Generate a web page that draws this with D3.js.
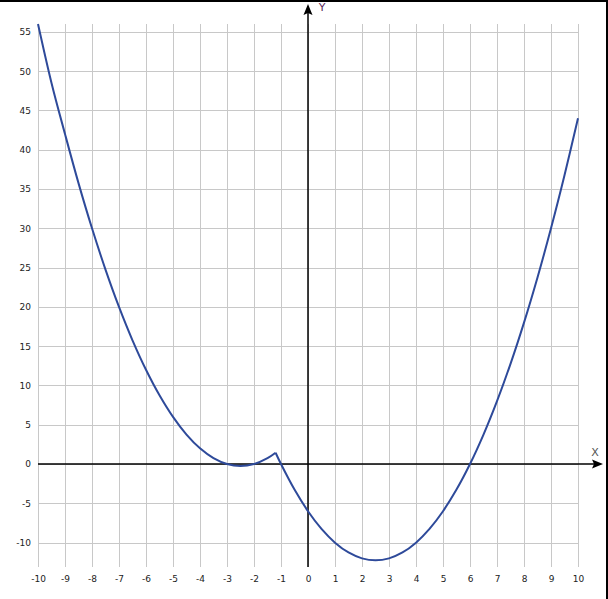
<!DOCTYPE html>
<html>
<head>
<meta charset="utf-8">
<script src="https://cdn.jsdelivr.net/npm/d3@7"></script>
<style>
  html, body { margin: 0; padding: 0; background: #fff; }
  svg { display: block; }
  .grid line { stroke: #c8c8c8; stroke-width: 1; shape-rendering: crispEdges; }
  .grid text { font-family: "DejaVu Sans", sans-serif; font-size: 9px; fill: #222; }
</style>
</head>
<body>
<svg id="chart" width="608" height="599"></svg>
<script>
// tick values
const xTicks = d3.range(-10, 11, 1);
const yTicks = d3.range(-10, 56, 5);

// left branch of the curve
const leftX = [-10, -9.5, -9, -8.5, -8, -7.5, -7, -6.5, -6, -5.5, -5, -4.5, -4, -3.5, -3, -2.5, -2, -1.5, -1.2];
const leftY = [56, 48.5, 42, 35.75, 30, 24.75, 20, 15.75, 12, 8.75, 6, 3.75, 2, 0.75, 0, -0.25, 0, 0.75, 1.44];

// right branch, from the kink to x = 10
const rightX = [-1.2, -1, -0.5, 0, 0.5, 1, 1.5, 2, 2.5, 3, 3.5, 4, 4.5, 5, 5.5, 6, 6.5, 7, 7.5, 8, 8.5, 9, 9.5, 10];
const rightY = [1.44, 0, -3.25, -6, -8.25, -10, -11.25, -12, -12.25, -12, -11.25, -10, -8.25, -6, -3.25, 0, 3.75, 8, 12.75, 18, 23.75, 30, 36.75, 44];

const svg = d3.select("#chart");
const plotLeft = 38, plotRight = 578, plotTop = 24, plotBottom = 567;

const x = d3.scaleLinear().domain([-10, 10]).range([plotLeft, plotRight]);
const y = d3.scaleLinear().domain([-13.1, 56]).range([plotBottom, plotTop]);

// plain hyphen minus like the original, not d3's U+2212
const plainFormat = d => String(d);

// frame on top and right
svg.append("line").attr("x1", 0).attr("x2", 608).attr("y1", 1).attr("y2", 1)
    .attr("stroke", "#000").attr("stroke-width", 2);
svg.append("line").attr("x1", 607).attr("x2", 607).attr("y1", 0).attr("y2", 599)
    .attr("stroke", "#000").attr("stroke-width", 2);

// vertical grid + x tick labels
svg.append("g").attr("class", "grid")
    .attr("transform", "translate(0," + plotBottom + ")")
    .call(d3.axisBottom(x).tickValues(xTicks).tickFormat(plainFormat)
        .tickSize(-(plotBottom - plotTop)).tickPadding(9))
    .call(g => g.select(".domain").remove());

// horizontal grid + y tick labels
svg.append("g").attr("class", "grid")
    .attr("transform", "translate(" + plotLeft + ",0)")
    .call(d3.axisLeft(y).tickValues(yTicks).tickFormat(plainFormat)
        .tickSize(-(plotRight - plotLeft)).tickPadding(7))
    .call(g => g.select(".domain").remove());

svg.selectAll(".grid text").attr("fill", "#222");

// axes with arrows
const x0 = x(0), y0 = y(0);
svg.append("line").attr("x1", plotLeft).attr("x2", 596).attr("y1", y0).attr("y2", y0)
    .attr("stroke", "#000").attr("stroke-width", 1.5);
svg.append("path")
    .attr("d", "M603," + y0 + "L592," + (y0 - 4.5) + "L594," + y0 + "L592," + (y0 + 4.5) + "Z")
    .attr("fill", "#000");
svg.append("line").attr("x1", x0).attr("x2", x0).attr("y1", plotBottom).attr("y2", 12)
    .attr("stroke", "#000").attr("stroke-width", 1.5);
svg.append("path")
    .attr("d", "M" + x0 + ",4L" + (x0 - 4.5) + ",15L" + x0 + ",13L" + (x0 + 4.5) + ",15Z")
    .attr("fill", "#000");

svg.append("text").attr("x", 595).attr("y", 456).attr("text-anchor", "middle")
    .style("font-family", "DejaVu Sans, sans-serif").style("font-size", "11px")
    .attr("fill", "#555").text("X");
svg.append("text").attr("x", 322).attr("y", 11).attr("text-anchor", "middle")
    .style("font-family", "DejaVu Sans, sans-serif").style("font-size", "11px")
    .attr("fill", "#5a2a5a").text("Y");

// the curve, two branches meeting at the kink
const line = d3.line()
    .x(d => x(d[0]))
    .y(d => y(d[1]))
    .curve(d3.curveCatmullRom);

[[leftX, leftY], [rightX, rightY]].forEach(([xs, ys]) => {
    svg.append("path")
        .datum(xs.map((v, i) => [v, ys[i]]))
        .attr("d", line)
        .attr("fill", "none")
        .attr("stroke", "#2e4a9a")
        .attr("stroke-width", 2)
        .attr("stroke-linejoin", "round");
});
</script>
</body>
</html>
